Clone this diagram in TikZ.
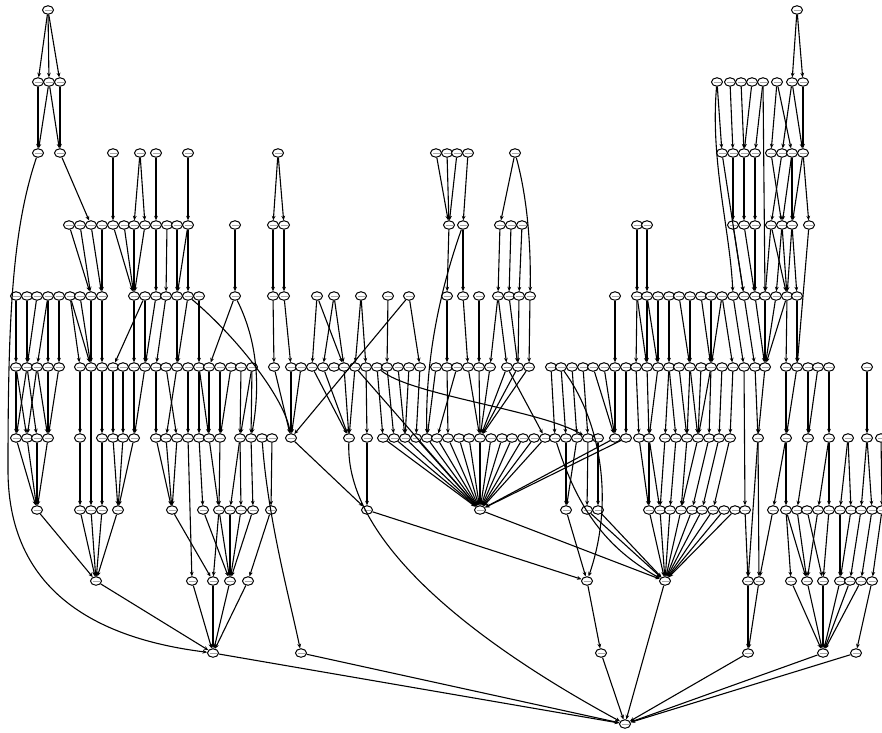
\documentclass[tikz,border=0pt]{standalone}
\usetikzlibrary{arrows.meta,shapes.geometric}
\tikzset{
  vtx/.style={ellipse, draw=black, fill=white, line width=1pt,
    minimum width=11pt, minimum height=8.5pt, inner sep=0pt,
    path picture={\draw[black!35, line width=0.9pt]
      ([xshift=-3.5pt]path picture bounding box.center) --
      ([xshift=3.5pt]path picture bounding box.center);}},
  dep/.style={-{Stealth[length=4.5pt,width=3.8pt]}, line width=1.1pt, color=#1},
  dep/.default=black,
}
\begin{document}
\begin{tikzpicture}[x=1pt, y=-1pt]
  \useasboundingbox (0,0) rectangle (882,732);

  % Ranks, top to bottom
  \foreach \x in {48,797} \node[vtx] (l0-\x) at (\x,10) {};
  \foreach \x in {38,49,60,717,730,741,752,763,777,792,803}
    \node[vtx] (l1-\x) at (\x,82) {};
  \foreach \x in {38,60,113,140,156,188,278,436,447,457,468,515,
                  722,733,744,755,771,782,792,803}
    \node[vtx] (l2-\x) at (\x,153) {};
  \foreach \x in {69,80,91,102,113,124,134,145,156,167,177,188,235,273,284,
                  449,463,500,511,522,637,647,733,744,755,771,782,792,809}
    \node[vtx] (l3-\x) at (\x,225) {};
  \foreach \x in {16,27,37,48,59,70,80,91,102,134,145,156,166,177,188,199,
                  235,273,284,317,334,361,388,409,447,463,479,498,509,519,530,
                  615,637,647,658,669,679,690,701,711,722,733,744,755,765,776,787,797}
    \node[vtx] (l4-\x) at (\x,296) {};
  \foreach \x in {16,27,37,48,59,80,91,102,113,123,134,145,156,166,177,188,199,
                  209,220,231,241,252,274,291,301,312,323,334,344,355,366,377,
                  387,398,409,420,436,447,457,468,479,490,507,518,529,551,561,
                  572,583,593,604,615,626,636,647,658,669,679,690,701,711,722,
                  733,744,755,765,786,797,808,818,829,867}
    \node[vtx] (l5-\x) at (\x,367) {};
  \foreach \x in {16,27,37,48,80,102,113,123,134,156,166,177,188,199,209,220,
                  240,251,262,272,291,349,367,383,394,405,416,427,437,448,459,
                  469,480,491,502,512,523,534,545,555,566,577,588,598,615,626,
                  639,649,665,676,687,698,709,719,730,758,786,808,829,848,867,881}
    \node[vtx] (l6-\x) at (\x,438) {};
  \foreach \x in {37,80,91,102,118,172,203,219,230,241,253,271,367,480,566,587,
                  598,649,660,670,681,692,702,713,724,735,745,773,786,797,807,
                  818,829,840,851,861,872,882}
    \node[vtx] (l7-\x) at (\x,510) {};
  \foreach \x in {96,192,213,230,248,587,665,748,759,791,807,823,840,850,861,872}
    \node[vtx] (l8-\x) at (\x,581) {};
  \foreach \x in {213,301,601,748,823,856} \node[vtx] (l9-\x) at (\x,653) {};
  \node[vtx] (l10-625) at (625,724) {};

  % Edges between neighbouring ranks
  \foreach \a/\b in {48/38,48/49,48/60,797/792,797/803}
    \draw[dep] (l0-\a) -- (l1-\b);
  \foreach \a/\b in {38/38,49/38,49/60,60/60,717/722,730/733,741/744,752/744,
                     763/755,777/771,777/792,792/782,792/803,803/803}
    \draw[dep] (l1-\a) -- (l2-\b);
  \foreach \a/\b in {60/91,113/113,140/134,140/145,156/156,188/188,278/273,
                     278/284,436/449,447/449,457/449,468/463,515/500,733/733,
                     744/744,755/755,771/782,782/771,792/782,792/792,803/792,803/809}
    \draw[dep] (l2-\a) -- (l3-\b);
  \foreach \a/\b in {69/91,80/91,91/102,102/102,113/134,124/134,134/134,145/134,
                     156/156,167/166,177/177,188/177,188/188,235/235,273/273,
                     284/284,449/447,463/463,500/498,511/509,522/519,637/637,
                     647/647,733/744,744/755,755/755,771/765,771/787,782/776,
                     782/787,792/787,792/797}
    \draw[dep] (l3-\a) -- (l4-\b);
  \foreach \a/\b in {16/16,27/27,37/27,48/37,48/48,59/59,70/80,70/91,80/91,91/91,
                     102/102,134/134,145/113,145/145,156/145,166/156,177/177,
                     188/177,199/199,235/209,273/274,284/291,317/312,317/344,
                     334/323,334/344,361/355,361/366,388/387,409/420,447/447,
                     463/468,479/479,498/490,498/507,509/518,519/518,530/529,
                     615/615,637/636,637/647,647/647,647/658,658/658,669/669,
                     679/690,690/690,701/711,711/711,722/711,722/733,733/744,
                     744/755,755/765,765/765,776/765,787/765,787/786,797/797}
    \draw[dep] (l4-\a) -- (l5-\b);
  \foreach \a/\b in {16/16,16/27,27/16,27/37,37/27,37/48,48/48,59/48,80/80,
                     102/102,113/113,123/123,134/134,145/134,156/156,166/177,
                     177/166,188/188,199/199,199/209,209/209,220/220,231/220,
                     241/240,252/240,252/251,274/291,291/291,301/291,312/349,
                     323/349,344/349,355/349,366/367,377/383,387/394,398/405,
                     409/405,420/416,436/427,447/448,457/437,468/480,479/480,
                     490/480,507/480,518/480,529/480,507/545,551/555,561/566,
                     572/577,583/588,593/615,604/615,615/615,626/626,636/639,
                     647/649,658/649,669/665,669/676,679/687,690/687,690/698,
                     701/698,711/698,711/709,722/719,733/730,755/758,765/758,
                     786/786,797/786,808/808,818/808,829/829,867/867}
    \draw[dep] (l5-\a) -- (l6-\b);
  \foreach \a/\b in {16/37,27/37,37/37,48/37,80/80,102/102,113/118,123/118,
                     134/118,156/172,166/172,177/172,199/203,209/219,220/219,
                     240/230,240/241,251/253,272/271,291/367,367/367,566/566,
                     577/566,588/587,598/598,639/649,649/649,649/660,665/660,
                     676/670,687/681,698/681,709/692,719/702,730/713,786/773,
                     786/786,808/797,829/818,829/829,848/840,848/851,867/861,
                     867/872,881/882}
    \draw[dep] (l6-\a) -- (l7-\b);
  % the wide fan into one node
  \foreach \a in {383,394,405,416,427,437,448,459,469,480,491,502,512,523,534,
                  545,615,626}
    \draw[dep] (l6-\a) -- (l7-480);
  \foreach \a/\b in {37/96,80/96,91/96,102/96,118/96,172/213,203/230,219/213,
                     219/230,230/230,241/230,253/230,271/248,367/587,566/587,
                     480/665,587/665,598/665,649/665,660/665,670/665,681/665,
                     692/665,702/665,713/665,724/665,735/665,745/748,773/759,
                     786/791,786/807,797/807,807/823,818/807,829/823,840/840,
                     851/840,861/850,872/861,882/872}
    \draw[dep] (l7-\a) -- (l8-\b);
  \foreach \a/\b in {96/213,192/213,213/213,230/213,248/213,587/601,748/748,
                     759/748,791/823,807/823,823/823,840/823,850/823,861/823,872/856}
    \draw[dep] (l8-\a) -- (l9-\b);
  \foreach \a in {213,301,601,748,823,856}
    \draw[dep] (l9-\a) -- (l10-625);
  \draw[dep] (l8-665) -- (l10-625);

  % Edges that skip ranks
  \coordinate (bend) at (8,470);
  \draw[dep] (l2-38) .. controls (12,230) and (8,320) .. (bend)
             .. controls (8,600) and (110,640) .. (l9-213);
  \draw[dep] (l2-515) .. controls (528,200) and (531,250) .. (l4-530);
  \draw[dep] (l2-722) -- (l4-744);
  \draw[dep] (l1-717) .. controls (710,160) and (730,230) .. (l4-733);
  \draw[dep] (l1-763) -- (l4-765);
  \draw[dep] (l3-463) .. controls (440,290) and (425,360) .. (l6-427);
  \draw[dep] (l3-809) -- (l5-797);
  \draw[dep] (l4-188) .. controls (240,340) and (285,400) .. (l6-291);
  \draw[dep] (l4-409) -- (l6-291);
  \draw[dep] (l4-235) .. controls (262,350) and (258,400) .. (l6-251);
  \draw[dep] (l5-91) -- (l7-91);
  \draw[dep] (l5-744) -- (l7-745);
  \draw[dep] (l5-355) -- (l7-480);
  \draw[dep] (l5-377) .. controls (410,395) and (540,410) .. (l6-588);
  \draw[dep] (l5-561) .. controls (600,420) and (615,500) .. (l8-587);
  \draw[dep] (l6-188) -- (l8-192);
  \draw[dep] (l6-349) .. controls (345,540) and (470,640) .. (l10-625);
  \draw[dep] (l6-262) .. controls (268,520) and (290,600) .. (l9-301);
  \draw[dep] (l6-555) .. controls (575,500) and (600,545) .. (l8-665);
  \draw[dep] (l6-758) -- (l8-748);
  \draw[dep] (l6-758) -- (l8-759);
\end{tikzpicture}
\end{document}
